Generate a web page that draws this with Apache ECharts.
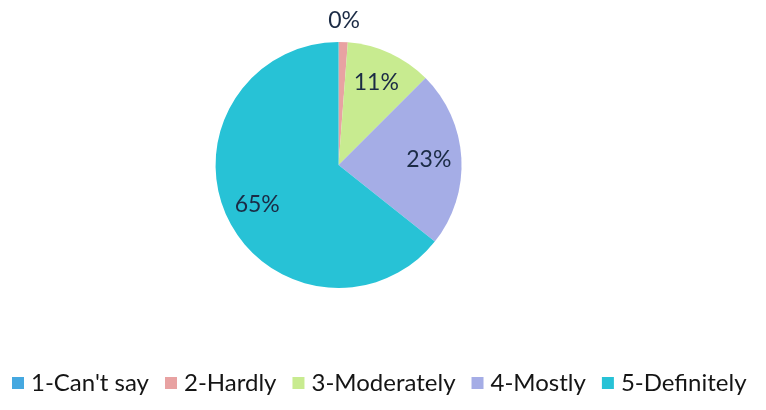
<!DOCTYPE html>
<html>
<head>
<meta charset="utf-8">
<script src="https://cdn.jsdelivr.net/npm/echarts@6/dist/echarts.min.js"></script>
<style>
  html, body { margin: 0; padding: 0; background: #fff; }
  #chart { width: 766px; height: 410px; }
</style>
</head>
<body>
<div id="chart"></div>
<script>
// answer categories and their shares
const categories = ['1-Can\'t say', '2-Hardly', '3-Moderately', '4-Mostly', '5-Definitely'];
const shares = [0, 1.2, 11.3, 23.2, 64.3];
const shareLabels = ['', '0%', '11%', '23%', '65%'];
const colors = ['#45A8E0', '#E8A2A2', '#C8EB90', '#A5ADE6', '#27C2D6'];

const pieCenter = ['44.2%', 165];
const pieRadius = 123;

const chartDom = document.getElementById('chart');
const chart = echarts.init(chartDom);

const pieData = categories.map((name, i) => ({ name: name, value: shares[i] }));

const labelStyle = {
    position: 'inside',
    formatter: p => shareLabels[p.dataIndex],
    fontFamily: 'Lato',
    fontSize: 23,
    color: '#1B2B45'
};

const option = {
    animation: false,
    color: colors,
    legend: {
        data: categories,
        orient: 'horizontal',
        left: 7,
        top: 366,
        itemWidth: 12,
        itemHeight: 12,
        itemGap: 16,
        icon: 'rect',
        textStyle: { fontFamily: 'Lato', fontSize: 24, color: '#151515', padding: [0, 0, 0, 2] }
    },
    series: [
        {
            // the actual pie
            name: 'share',
            type: 'pie',
            center: pieCenter,
            radius: [0, pieRadius],
            startAngle: 90,
            clockwise: true,
            data: pieData,
            label: { show: false },
            labelLine: { show: false },
            itemStyle: { borderWidth: 0 },
            emphasis: { disabled: true }
        },
        {
            // invisible pie, only used to place labels at ~0.7 of the radius
            name: 'labels',
            type: 'pie',
            center: pieCenter,
            radius: [0, pieRadius * 1.42],
            startAngle: 90,
            silent: true,
            data: pieData.map((d, i) => ({
                name: d.name,
                value: d.value,
                label: { show: i >= 2 }
            })),
            itemStyle: { color: 'rgba(0,0,0,0)' },
            label: labelStyle,
            labelLine: { show: false },
            emphasis: { disabled: true }
        },
        {
            // thin ring outside the pie for the tiny slice label
            name: 'outerLabels',
            type: 'pie',
            center: pieCenter,
            radius: [pieRadius + 12, pieRadius + 26],
            startAngle: 90,
            silent: true,
            data: pieData.map((d, i) => ({
                name: d.name,
                value: d.value,
                label: { show: i === 1 }
            })),
            itemStyle: { color: 'rgba(0,0,0,0)' },
            label: labelStyle,
            labelLine: { show: false },
            emphasis: { disabled: true }
        }
    ]
};

chart.setOption(option);
</script>
</body>
</html>
